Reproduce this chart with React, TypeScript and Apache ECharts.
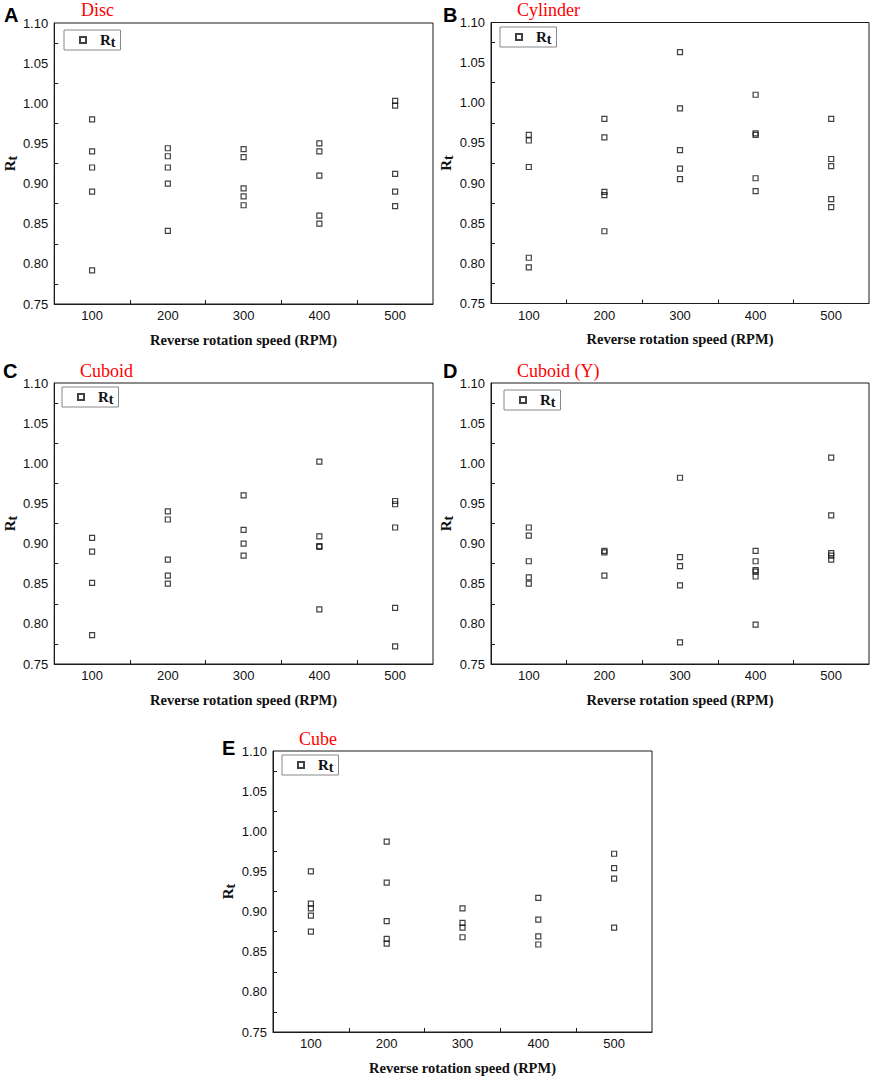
import React, { useEffect, useRef } from "react";
import * as echarts from "echarts";

// ---------------- data ----------------
const rpmValues = [100, 200, 300, 400, 500];

const discRt = [
  [0.98, 0.94, 0.92, 0.89, 0.792],
  [0.944, 0.934, 0.92, 0.9, 0.841],
  [0.943, 0.933, 0.894, 0.884, 0.873],
  [0.95, 0.94, 0.91, 0.86, 0.85],
  [1.003, 0.997, 0.912, 0.89, 0.872],
];
const cylinderRt = [
  [0.96, 0.953, 0.92, 0.807, 0.795],
  [0.98, 0.957, 0.889, 0.885, 0.84],
  [1.063, 0.993, 0.941, 0.918, 0.905],
  [1.01, 0.962, 0.96, 0.906, 0.89],
  [0.98, 0.93, 0.921, 0.88, 0.87],
];
const cuboidRt = [
  [0.907, 0.89, 0.851, 0.786],
  [0.94, 0.93, 0.88, 0.86, 0.85],
  [0.96, 0.917, 0.9, 0.885],
  [1.002, 0.909, 0.897, 0.896, 0.818],
  [0.953, 0.949, 0.92, 0.82, 0.772],
];
const cuboidYRt = [
  [0.92, 0.91, 0.878, 0.858, 0.85],
  [0.891, 0.889, 0.86],
  [0.982, 0.883, 0.872, 0.848, 0.777],
  [0.891, 0.878, 0.867, 0.865, 0.859, 0.799],
  [1.007, 0.935, 0.888, 0.885, 0.88],
];
const cubeRt = [
  [0.95, 0.91, 0.904, 0.895, 0.875],
  [0.987, 0.936, 0.888, 0.866, 0.86],
  [0.904, 0.886, 0.88, 0.868],
  [0.917, 0.89, 0.869, 0.859],
  [0.972, 0.954, 0.941, 0.88],
];

const panelValues = [discRt, cylinderRt, cuboidRt, cuboidYRt, cubeRt];
const panelLetters = ["A", "B", "C", "D", "E"];
const panelTitles = ["Disc", "Cylinder", "Cuboid", "Cuboid (Y)", "Cube"];
const xMinorTicks = [150, 250, 350, 450];
const yMinorTicks = [0.775, 0.825, 0.875, 0.925, 0.975, 1.025, 1.075];
const xAxisTitle = "Reverse rotation speed (RPM)";
const seriesName = "Rt";

// ---------------- layout ----------------
const grids = [
  { left: 54, top: 23, width: 379, height: 281 },
  { left: 491, top: 22.5, width: 378, height: 281 },
  { left: 54, top: 383, width: 379, height: 281 },
  { left: 491, top: 383, width: 378, height: 281 },
  { left: 273, top: 751, width: 379, height: 281 },
];
const legendPos = [
  { left: 64, top: 30 },
  { left: 500, top: 27 },
  { left: 62, top: 387 },
  { left: 504, top: 390 },
  { left: 282, top: 755 },
];
const letterPos = [
  { x: 4, y: 15 },
  { x: 443, y: 15 },
  { x: 3, y: 371 },
  { x: 443, y: 371 },
  { x: 222, y: 748 },
];
const titlePos = [
  { x: 81, y: 10 },
  { x: 517, y: 10 },
  { x: 80, y: 371 },
  { x: 517, y: 371 },
  { x: 299, y: 739 },
];

const SERIF = '"Liberation Serif", "Times New Roman", serif';
const SANS = '"Liberation Sans", Arial, sans-serif';
const INK = "#1a1a1a";

const rtRich = {
  R: { fontFamily: SERIF, fontWeight: "bold", fontSize: 15, color: "#111", lineHeight: 16, verticalAlign: "top" },
  t: { fontFamily: SERIF, fontWeight: "bold", fontSize: 14, color: "#111", lineHeight: 16, padding: [4, 0, 0, 0] },
};
const legendRich = {
  R: { ...rtRich.R, padding: [0, 0, 0, 9] },
  t: rtRich.t,
};

function buildOption() {
  const grid = grids.map((g) => ({
    ...g,
    show: true,
    borderColor: INK,
    borderWidth: 1,
    backgroundColor: "transparent",
  }));

  const xAxis = grids.map((_, i) => ({
    type: "value",
    gridIndex: i,
    min: 50,
    max: 550,
    axisLine: { show: true, onZero: false, lineStyle: { color: INK, width: 1 } },
    axisTick: { show: true, inside: true, length: 4, customValues: xMinorTicks, lineStyle: { color: INK } },
    axisLabel: { customValues: rpmValues, color: "#111", fontSize: 13, fontFamily: SANS, margin: 5 },
    splitLine: { show: false },
    name: xAxisTitle,
    nameLocation: "middle",
    nameGap: 28,
    nameTextStyle: { fontFamily: SERIF, fontWeight: "bold", fontSize: 14.5, color: "#111" },
  }));

  const yAxis = grids.map((_, i) => ({
    type: "value",
    gridIndex: i,
    min: 0.75,
    max: 1.1,
    interval: 0.05,
    axisLine: { show: true, onZero: false, lineStyle: { color: INK, width: 1 } },
    axisTick: { show: true, inside: true, length: 4, customValues: yMinorTicks, lineStyle: { color: INK } },
    axisLabel: {
      color: "#111",
      fontSize: 13,
      fontFamily: SANS,
      margin: 6,
      formatter: (v: number) => v.toFixed(2),
    },
    splitLine: { show: false },
    name: "{R|R}{t|t}",
    nameLocation: "middle",
    nameRotate: 90,
    nameGap: 36,
    nameTextStyle: { rich: rtRich },
  }));

  const series = panelValues.map((panel, i) => ({
    type: "scatter",
    name: seriesName,
    xAxisIndex: i,
    yAxisIndex: i,
    symbol: "rect",
    symbolSize: 5,
    itemStyle: { color: "rgba(255,255,255,0)", borderColor: "#111", borderWidth: 1.2 },
    data: panel.flatMap((vals, k) => vals.map((v) => [rpmValues[k], v])),
  }));

  const legend = legendPos.map((p) => ({
    ...p,
    data: [seriesName],
    orient: "horizontal",
    selectedMode: false,
    itemWidth: 6,
    itemHeight: 6,
    padding: [1, 5, 1, 15],
    borderColor: "#888",
    borderWidth: 1,
    formatter: () => "{R|R}{t|t}",
    textStyle: { rich: legendRich },
  }));

  const graphicEls: any[] = [];
  letterPos.forEach((p, i) => {
    graphicEls.push({
      type: "text",
      x: p.x,
      y: p.y,
      style: {
        text: panelLetters[i],
        fill: "#000",
        font: `bold 20px ${SANS}`,
        align: "left",
        verticalAlign: "middle",
      },
    });
  });
  titlePos.forEach((p, i) => {
    graphicEls.push({
      type: "text",
      x: p.x,
      y: p.y,
      style: {
        text: panelTitles[i],
        fill: "#ff0000",
        font: `18px ${SERIF}`,
        align: "left",
        verticalAlign: "middle",
      },
    });
  });

  return {
    animation: false,
    backgroundColor: "#fff",
    grid,
    xAxis,
    yAxis,
    series,
    legend,
    graphic: { elements: graphicEls },
  };
}

export default function App() {
  const ref = useRef<HTMLDivElement>(null);
  useEffect(() => {
    if (!ref.current) return;
    const chart = echarts.init(ref.current, undefined, { renderer: "svg" });
    chart.setOption(buildOption() as any);
    return () => chart.dispose();
  }, []);
  return (
    <div
      ref={ref}
      style={{ position: "absolute", left: 0, top: 0, width: 872, height: 1078, background: "#fff" }}
    />
  );
}
